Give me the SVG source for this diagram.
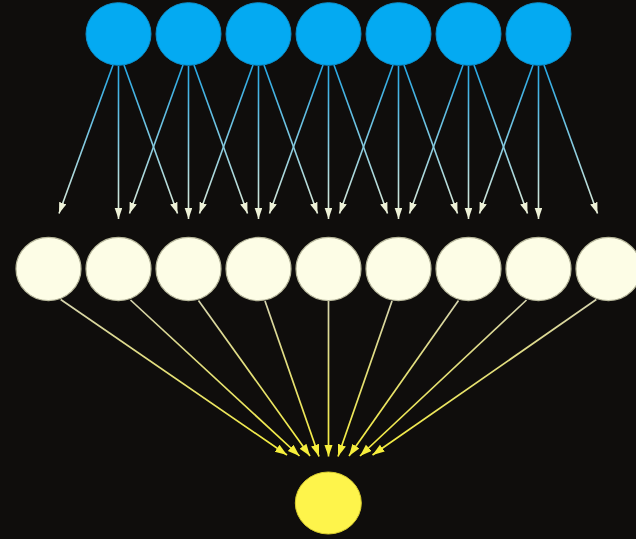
<svg xmlns="http://www.w3.org/2000/svg" width="636" height="539" viewBox="0 0 636 539">
  <defs>
    <style>
      .in { fill: #04aaf2; stroke: #0b8fcc; stroke-width: 1; }
      .hid { fill: #fdfde6; stroke: #b8b89c; stroke-width: 1.2; }
      .out { fill: #fef44b; stroke: #d6ca2e; stroke-width: 1; }
      .e1 { fill: none; stroke: url(#g1); stroke-width: 1.6; marker-end: url(#a1); }
      .e2 { fill: none; stroke: url(#g2); stroke-width: 1.7; marker-end: url(#a2); }
    </style>
    <linearGradient id="g1" gradientUnits="userSpaceOnUse" x1="0" y1="65" x2="0" y2="219">
      <stop offset="0" stop-color="#22a6e4"/>
      <stop offset="0.5" stop-color="#82cae2"/>
      <stop offset="1" stop-color="#e4ecd6"/>
    </linearGradient>
    <linearGradient id="g2" gradientUnits="userSpaceOnUse" x1="0" y1="300" x2="0" y2="456">
      <stop offset="0" stop-color="#d6d4ae"/>
      <stop offset="1" stop-color="#f6ee3a"/>
    </linearGradient>
    <marker id="a1" markerUnits="userSpaceOnUse" markerWidth="13" markerHeight="9" refX="11" refY="3.8" orient="auto">
      <path d="M0,0 L11,3.8 L0,7.6 z" fill="#eef2d8"/>
    </marker>
    <marker id="a2" markerUnits="userSpaceOnUse" markerWidth="14" markerHeight="10" refX="12" refY="4.2" orient="auto">
      <path d="M0,0 L12,4.2 L0,8.4 z" fill="#f6ee3c"/>
    </marker>
  </defs>
  <rect x="0" y="0" width="636" height="539" fill="#0f0d0c"/>

  <g id="connectors">
    <path class="e1" d="M113,65 L59,213.5"/>
    <path class="e1" d="M118.5,66 L118.5,219"/>
    <path class="e1" d="M124,65 L177.5,213.5"/>
    <path class="e1" d="M183,65 L129.5,213.5"/>
    <path class="e1" d="M188.5,66 L188.5,219"/>
    <path class="e1" d="M194,65 L247.5,213.5"/>
    <path class="e1" d="M253,65 L199.5,213.5"/>
    <path class="e1" d="M258.5,66 L258.5,219"/>
    <path class="e1" d="M264,65 L317.5,213.5"/>
    <path class="e1" d="M323,65 L269.5,213.5"/>
    <path class="e1" d="M328.5,66 L328.5,219"/>
    <path class="e1" d="M334,65 L387.5,213.5"/>
    <path class="e1" d="M393,65 L339.5,213.5"/>
    <path class="e1" d="M398.5,66 L398.5,219"/>
    <path class="e1" d="M404,65 L457.5,213.5"/>
    <path class="e1" d="M463,65 L409.5,213.5"/>
    <path class="e1" d="M468.5,66 L468.5,219"/>
    <path class="e1" d="M474,65 L527.5,213.5"/>
    <path class="e1" d="M533,65 L479.5,213.5"/>
    <path class="e1" d="M538.5,66 L538.5,219"/>
    <path class="e1" d="M544,65 L597.5,213.5"/>

    <path class="e2" d="M60.7,299.5 L287,455"/>
    <path class="e2" d="M130.5,300 L299.5,456"/>
    <path class="e2" d="M198.5,300.5 L310,456"/>
    <path class="e2" d="M265,301 L319,456.5"/>
    <path class="e2" d="M328.5,301 L328.5,456.5"/>
    <path class="e2" d="M392,301 L338,456.5"/>
    <path class="e2" d="M458.5,300.5 L349,456"/>
    <path class="e2" d="M526.5,300 L360,456"/>
    <path class="e2" d="M596.3,299.5 L372.5,455"/>
  </g>

  <g id="in1"><ellipse class="in" cx="118.5" cy="34" rx="32.5" ry="31.3"/></g>
  <g id="in2"><ellipse class="in" cx="188.5" cy="34" rx="32.5" ry="31.3"/></g>
  <g id="in3"><ellipse class="in" cx="258.5" cy="34" rx="32.5" ry="31.3"/></g>
  <g id="in4"><ellipse class="in" cx="328.5" cy="34" rx="32.5" ry="31.3"/></g>
  <g id="in5"><ellipse class="in" cx="398.5" cy="34" rx="32.5" ry="31.3"/></g>
  <g id="in6"><ellipse class="in" cx="468.5" cy="34" rx="32.5" ry="31.3"/></g>
  <g id="in7"><ellipse class="in" cx="538.5" cy="34" rx="32.5" ry="31.3"/></g>

  <g id="h1"><ellipse class="hid" cx="48.5" cy="269" rx="32.5" ry="31.6"/></g>
  <g id="h2"><ellipse class="hid" cx="118.5" cy="269" rx="32.5" ry="31.6"/></g>
  <g id="h3"><ellipse class="hid" cx="188.5" cy="269" rx="32.5" ry="31.6"/></g>
  <g id="h4"><ellipse class="hid" cx="258.5" cy="269" rx="32.5" ry="31.6"/></g>
  <g id="h5"><ellipse class="hid" cx="328.5" cy="269" rx="32.5" ry="31.6"/></g>
  <g id="h6"><ellipse class="hid" cx="398.5" cy="269" rx="32.5" ry="31.6"/></g>
  <g id="h7"><ellipse class="hid" cx="468.5" cy="269" rx="32.5" ry="31.6"/></g>
  <g id="h8"><ellipse class="hid" cx="538.5" cy="269" rx="32.5" ry="31.6"/></g>
  <g id="h9"><ellipse class="hid" cx="608.5" cy="269" rx="32.5" ry="31.6"/></g>

  <g id="out"><ellipse class="out" cx="328.3" cy="503" rx="33" ry="31"/></g>
</svg>
